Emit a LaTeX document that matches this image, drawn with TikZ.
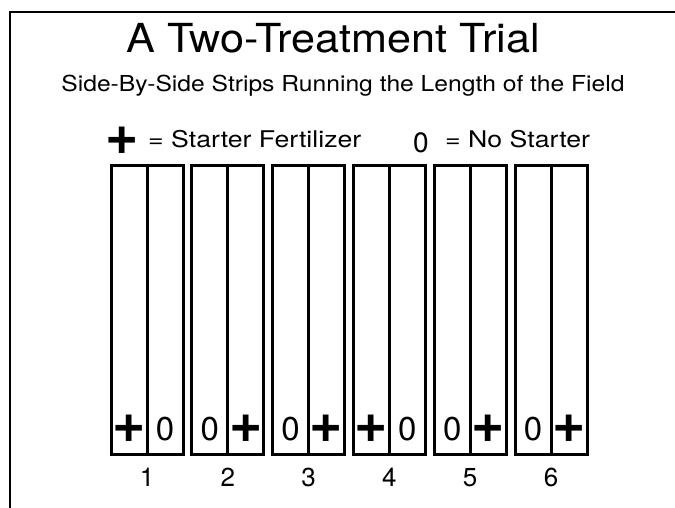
\documentclass[tikz,border=0pt]{standalone}
\usepackage{fontspec}
\setmainfont{TeX Gyre Heros}
\newfontfamily\titlefont[FakeStretch=1.08]{TeX Gyre Heros}
\newfontfamily\widefont[FakeStretch=1.12]{TeX Gyre Heros}
\newfontfamily\keyfont[FakeStretch=1.16]{TeX Gyre Heros}
\usetikzlibrary{positioning}

\begin{document}
\begin{tikzpicture}[x=1pt,y=-1pt,
 half/.style={draw,line width=3pt,minimum width=36pt,minimum height=288pt,
 inner sep=0pt,outer sep=0pt},
 plusmark/.style={font=\fontsize{57}{57}\selectfont\bfseries,inner sep=0pt},
 zeromark/.style={font=\fontsize{33}{33}\selectfont,inner sep=0pt},
 num/.style={font=\fontsize{26}{26}\selectfont,inner sep=0pt,anchor=base},
 keytext/.style={font=\keyfont\fontsize{23}{23}\selectfont,inner sep=0pt,anchor=base west}]
\useasboundingbox (0,0) rectangle (675,508);
\draw[line width=2.5pt] (675,12) -- (10,12) -- (10,508);
\node[font=\titlefont\fontsize{40}{40}\selectfont,inner sep=0pt,anchor=base] (title) at (333,53) {A Two-Treatment Trial};
\node[font=\widefont\fontsize{22}{22}\selectfont,inner sep=0pt,anchor=base] (sub) at (343,92) {Side-By-Side Strips Running the Length of the Field};
% key
\node[plusmark] (keyplus) at (122,141) {+};
\node[keytext] (keyfert) at (148,148) {= Starter Fertilizer};
\node[zeromark,font=\fontsize{28}{28}\selectfont] (keyzero) at (421,142.5) {0};
\node[keytext] (keynone) at (445,148) {= No Starter};
% strips
\foreach \i/\sa/\sb/\ta/\tb in {1/plusmark/zeromark/+/0,2/zeromark/plusmark/0/+,
 3/zeromark/plusmark/0/+,4/plusmark/zeromark/+/0,5/zeromark/plusmark/0/+,
 6/zeromark/plusmark/0/+}{
 \pgfmathsetmacro\xl{111+80.8*(\i-1)}
 \node[half,anchor=north west] (s\i a) at (\xl,166) {};
 \node[half,right=0pt of s\i a] (s\i b) {};
 \node[\sa] (m\i a) at ([yshift=25pt]s\i a.south) {\ta};
 \node[\sb] (m\i b) at ([yshift=25pt]s\i b.south) {\tb};
 \node[num] (n\i) at ([yshift=-32pt]s\i a.south east) {\i};
}
\end{tikzpicture}
\end{document}
